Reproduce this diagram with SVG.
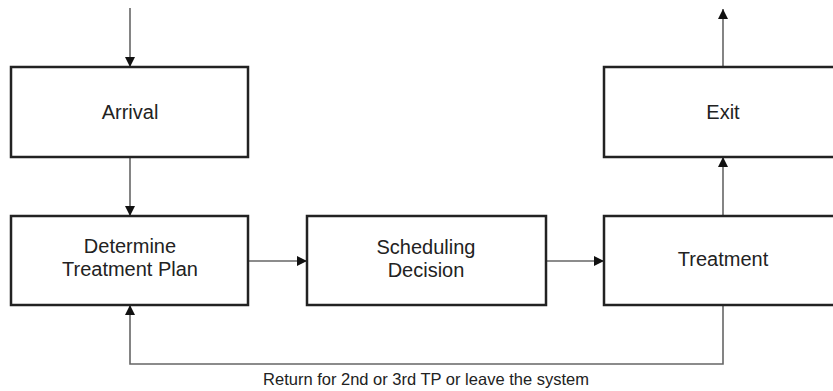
<svg xmlns="http://www.w3.org/2000/svg" width="833" height="391" viewBox="0 0 833 391">
  <style>
    .box { fill: #ffffff; stroke: #222222; stroke-width: 2.5; }
    .lbl { font-family: "Liberation Sans", Arial, sans-serif; font-size: 20px; fill: #222222; text-anchor: middle; }
    .edge { fill: none; stroke: #666666; stroke-width: 1.6; }
    .note { font-family: "Liberation Sans", Arial, sans-serif; font-size: 16.5px; fill: #222222; text-anchor: middle; }
  </style>
  <defs>
    <marker id="head" viewBox="0 0 10 10" refX="10" refY="5" markerWidth="10" markerHeight="10" markerUnits="userSpaceOnUse" orient="auto">
      <path d="M0,0 L10,5 L0,10 Z" fill="#111111"/>
    </marker>
  </defs>
  <rect width="833" height="391" fill="#ffffff"/>

  <g id="connectors">
    <path class="edge" d="M130,8 V67" marker-end="url(#head)"/>
    <path class="edge" d="M130,157 V216" marker-end="url(#head)"/>
    <path class="edge" d="M248,261 H307" marker-end="url(#head)"/>
    <path class="edge" d="M546,261 H604" marker-end="url(#head)"/>
    <path class="edge" d="M723,216 V157" marker-end="url(#head)"/>
    <path class="edge" d="M723,67 V9" marker-end="url(#head)"/>
    <path class="edge" d="M723,305 V364 H130 V305" marker-end="url(#head)"/>
    <text class="note" x="426" y="385">Return for 2nd or 3rd TP or leave the system</text>
  </g>

  <g id="arrival">
    <rect class="box" x="11" y="67" width="237" height="90"/>
    <text class="lbl" x="130" y="119">Arrival</text>
  </g>
  <g id="determine">
    <rect class="box" x="11" y="216" width="237" height="89"/>
    <text class="lbl" x="130" y="253">Determine</text>
    <text class="lbl" x="130" y="276">Treatment Plan</text>
  </g>
  <g id="scheduling">
    <rect class="box" x="307" y="216" width="239" height="89"/>
    <text class="lbl" x="426" y="254">Scheduling</text>
    <text class="lbl" x="426" y="277">Decision</text>
  </g>
  <g id="treatment">
    <rect class="box" x="604" y="216" width="238" height="89"/>
    <text class="lbl" x="723" y="266">Treatment</text>
  </g>
  <g id="exit">
    <rect class="box" x="604" y="67" width="238" height="90"/>
    <text class="lbl" x="723" y="119">Exit</text>
  </g>
</svg>
